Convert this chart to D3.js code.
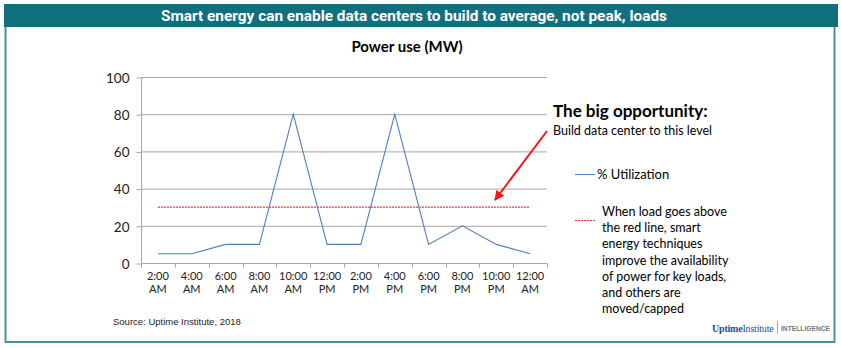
<!DOCTYPE html>
<html><head><meta charset="utf-8">
<script src="https://cdn.jsdelivr.net/npm/d3@7"></script>
<style>body{margin:0;background:#fff}svg{display:block}</style>
</head><body>
<script>
const categories = ["2:00 AM","4:00 AM","6:00 AM","8:00 AM","10:00 AM","12:00 PM","2:00 PM","4:00 PM","6:00 PM","8:00 PM","10:00 PM","12:00 AM"];
const utilization = [5,5,10,10,80,10,10,80,10,20,10,5];
const thresholdLevel = [30,30,30,30,30,30,30,30,30,30,30,30];
const yTicks = [0,20,40,60,80,100];
const noteLines = ["When load goes above","the red line, smart","energy techniques","improve the availability","of power for key loads,","and others are","moved/capped"];

const W = 841, H = 348;
const svg = d3.select("body").append("svg").attr("width", W).attr("height", H);
const font = "Lato, 'Open Sans', sans-serif";

// frame
svg.append("rect").attr("x",5.5).attr("y",20).attr("width",829).attr("height",322)
  .attr("fill","#fff").attr("stroke","#4593a0").attr("stroke-width",2);
svg.append("rect").attr("x",4).attr("y",4).attr("width",834).attr("height",23).attr("fill","#12707e");
svg.append("text").attr("x",414).attr("y",21).attr("text-anchor","middle")
  .attr("fill","#fff").attr("font-family","Roboto, sans-serif").attr("font-weight","bold")
  .attr("font-size",15.5).attr("textLength",506).attr("lengthAdjust","spacingAndGlyphs")
  .text("Smart energy can enable data centers to build to average, not peak, loads");

// chart title
svg.append("text").attr("x",407).attr("y",52).attr("text-anchor","middle")
  .attr("font-family",font).attr("font-weight","bold").attr("font-size",15).attr("fill","#000")
  .text("Power use (MW)");

const x = d3.scaleBand().domain(categories).range([141,547]);
const y = d3.scaleLinear().domain([0,100]).range([263,77]);

// gridlines
svg.append("g").selectAll("line").data(yTicks.filter(d=>d>0)).join("line")
  .attr("x1",141).attr("x2",547).attr("y1",d=>y(d)+0.5).attr("y2",d=>y(d)+0.5)
  .attr("stroke","#a6a6a6").attr("stroke-width",1);

// y axis
const yAxis = svg.append("g").attr("transform","translate(141.5,0.5)")
  .call(d3.axisLeft(y).tickValues(yTicks).tickSize(5).tickPadding(7));
yAxis.select(".domain").attr("stroke","#a6a6a6").attr("d","M0,"+y(100)+"V"+y(0));
yAxis.selectAll(".tick line").attr("stroke","#a6a6a6");
yAxis.selectAll(".tick text").attr("font-family",font).attr("font-size",13.5).attr("fill","#222").attr("dy","0.35em");

// x axis
const xAxisG = svg.append("g").attr("transform","translate(0,263.5)");
xAxisG.append("line").attr("x1",141).attr("x2",547).attr("stroke","#a6a6a6");
const bounds = categories.map(c=>x(c)).concat([x(categories[categories.length-1])+x.bandwidth()]);
xAxisG.selectAll("line.tk").data(bounds).join("line").attr("class","tk")
  .attr("x1",d=>Math.round(d)+0.5).attr("x2",d=>Math.round(d)+0.5).attr("y1",0).attr("y2",4).attr("stroke","#a6a6a6");
const lbl = xAxisG.selectAll("text").data(categories).join("text")
  .attr("text-anchor","middle").attr("font-family",font).attr("font-size",11).attr("fill","#222")
  .attr("transform",d=>`translate(${x(d)+x.bandwidth()/2},0)`);
lbl.append("tspan").attr("x",0).attr("y",16).text(d=>d.split(" ")[0]);
lbl.append("tspan").attr("x",0).attr("y",29).text(d=>d.split(" ")[1]);

// threshold line
const line = d3.line().x((d,i)=>x(categories[i])+x.bandwidth()/2).y(d=>y(d));
svg.append("path").datum(thresholdLevel).attr("d",line).attr("fill","none")
  .attr("stroke","#f0303a").attr("stroke-width",1.2).attr("stroke-dasharray","2,1");

// utilization
svg.append("path").datum(utilization).attr("d",line).attr("fill","none")
  .attr("stroke","#4f7fbf").attr("stroke-width",1.1);

// arrow
svg.append("defs").append("marker").attr("id","ah").attr("viewBox","0 0 10 10")
  .attr("refX",9).attr("refY",5).attr("markerWidth",5).attr("markerHeight",5).attr("orient","auto")
  .append("path").attr("d","M0,0L10,5L0,10z").attr("fill","#f01818");
svg.append("line").attr("x1",547).attr("y1",131).attr("x2",495).attr("y2",200)
  .attr("stroke","#f01818").attr("stroke-width",2).attr("marker-end","url(#ah)");

// annotation
svg.append("text").attr("x",553).attr("y",117).attr("font-family",font).attr("font-weight","bold")
  .attr("font-size",17).attr("fill","#000").text("The big opportunity:");
svg.append("text").attr("x",553).attr("y",135).attr("font-family",font)
  .attr("font-size",12.5).attr("fill","#000").text("Build data center to this level");

// legend
svg.append("line").attr("x1",575).attr("x2",595).attr("y1",174.5).attr("y2",174.5).attr("stroke","#4f7fbf");
svg.append("text").attr("x",597).attr("y",179).attr("font-family",font).attr("font-size",13).attr("fill","#000").text("% Utilization");
svg.append("line").attr("x1",575).attr("x2",595).attr("y1",220.5).attr("y2",220.5)
  .attr("stroke","#f0303a").attr("stroke-dasharray","2,1");
svg.append("g").selectAll("text").data(noteLines).join("text")
  .attr("x",602).attr("y",(d,i)=>216+i*16.2).attr("font-family",font).attr("font-size",12.5).attr("fill","#000").text(d=>d);

// source
svg.append("text").attr("x",113).attr("y",325).attr("font-family","'Liberation Sans', Arial, sans-serif")
  .attr("font-size",9.5).attr("fill","#222").text("Source: Uptime Institute, 2018");

// logo
const logo = svg.append("text").attr("x",712).attr("y",332).attr("font-family","'Liberation Serif', serif")
  .attr("font-size",10).attr("letter-spacing",-0.2).attr("fill","#1d4f91");
logo.append("tspan").attr("font-weight","bold").text("Uptime");
logo.append("tspan").text("Institute");
svg.append("line").attr("x1",777.5).attr("x2",777.5).attr("y1",321).attr("y2",334).attr("stroke","#aaa");
svg.append("text").attr("x",781).attr("y",331).attr("font-family","'Liberation Sans', Arial, sans-serif")
  .attr("font-size",6.5).attr("font-weight","bold").attr("fill","#777")
  .attr("textLength",49).attr("lengthAdjust","spacingAndGlyphs").text("INTELLIGENCE");
</script>
</body></html>
